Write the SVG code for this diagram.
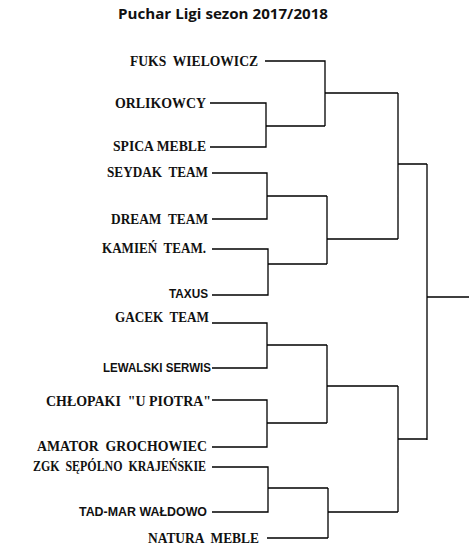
<svg xmlns="http://www.w3.org/2000/svg" width="469" height="551" viewBox="0 0 469 551" xml:space="preserve">
<style>
.bg{fill:#fff}
text{white-space:pre}
.t{font-family:"Liberation Serif","Times New Roman",serif;font-weight:bold;font-size:14px;fill:#111;text-anchor:end}
.s{font-family:"Liberation Sans",Arial,sans-serif;font-weight:bold;font-size:12px;fill:#111;text-anchor:end}
.title{font-family:"Open Sans","Liberation Sans",sans-serif;font-weight:bold;font-size:14.5px;fill:#111}
.c{fill:none;stroke:#000;stroke-width:1.3}
</style>
<rect class="bg" x="0" y="0" width="469" height="551"/>
<g id="title"><text class="title" x="118" y="19" textLength="210" lengthAdjust="spacingAndGlyphs">Puchar Ligi sezon 2017/2018</text></g>
<g id="n-fuks"><text class="t" x="258" y="66" textLength="128" lengthAdjust="spacingAndGlyphs">FUKS  WIELOWICZ</text></g>
<g id="n-orlikowcy"><text class="t" x="206" y="108" textLength="91" lengthAdjust="spacingAndGlyphs">ORLIKOWCY</text></g>
<g id="n-spica"><text class="t" x="206" y="151" textLength="93" lengthAdjust="spacingAndGlyphs">SPICA MEBLE</text></g>
<g id="n-seydak"><text class="t" x="208" y="177" textLength="101" lengthAdjust="spacingAndGlyphs">SEYDAK  TEAM</text></g>
<g id="n-dream"><text class="t" x="208" y="224" textLength="97" lengthAdjust="spacingAndGlyphs">DREAM  TEAM</text></g>
<g id="n-kamien"><text class="t" x="206" y="253" textLength="104" lengthAdjust="spacingAndGlyphs">KAMIEŃ  TEAM.</text></g>
<g id="n-taxus"><text class="s" x="208" y="298" textLength="39" lengthAdjust="spacingAndGlyphs">TAXUS</text></g>
<g id="n-gacek"><text class="t" x="209" y="322" textLength="94" lengthAdjust="spacingAndGlyphs">GACEK  TEAM</text></g>
<g id="n-lewalski"><text class="s" x="211" y="372" textLength="108" lengthAdjust="spacingAndGlyphs">LEWALSKI SERWIS</text></g>
<g id="n-chlopaki"><text class="t" x="211" y="406" textLength="165" lengthAdjust="spacingAndGlyphs">CHŁOPAKI  "U PIOTRA"</text></g>
<g id="n-amator"><text class="t" x="207" y="451" textLength="170" lengthAdjust="spacingAndGlyphs">AMATOR  GROCHOWIEC</text></g>
<g id="n-zgk"><text class="t" x="206" y="471" textLength="173" lengthAdjust="spacingAndGlyphs">ZGK  SĘPÓLNO  KRAJEŃSKIE</text></g>
<g id="n-tadmar"><text class="s" x="207" y="516" textLength="128" lengthAdjust="spacingAndGlyphs">TAD-MAR WAŁDOWO</text></g>
<g id="n-natura"><text class="t" x="259" y="543" textLength="111" lengthAdjust="spacingAndGlyphs">NATURA  MEBLE</text></g>
<g id="connectors">
<path class="c" d="M265 61H325V126M210 103H266V147H210M266 126H325M325 93H398"/>
<path class="c" d="M212 173H267V219H212M267 196H327M212 249H268V295H212M268 264H327M327 196V264M327 239H398M398 93V239M398 164H427"/>
<path class="c" d="M212 323H267V368H212M267 345H327M212 400H267V447H212M267 423H327M327 345V423M327 386H398"/>
<path class="c" d="M212 467H268V512H212M268 488H328M267 538H328M328 488V538M328 512H398M398 386V512M398 439H427"/>
<path class="c" d="M427 164V440M427 297H469"/>
</g>
</svg>
